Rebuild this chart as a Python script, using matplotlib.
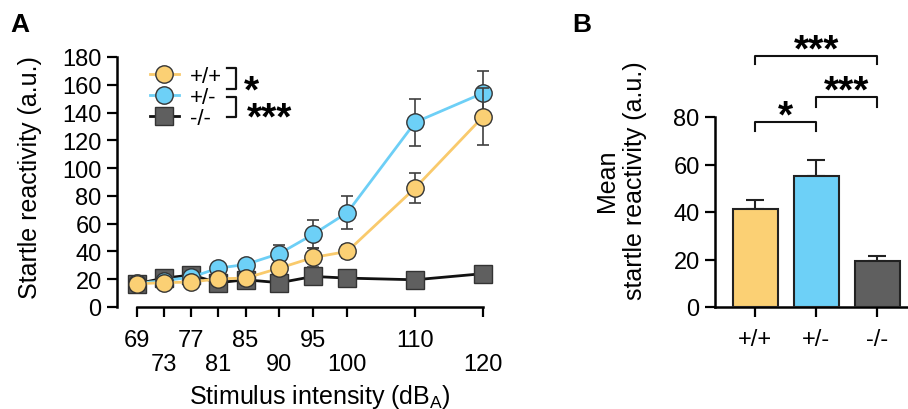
import numpy as np
import matplotlib
matplotlib.use("Agg")
import matplotlib.pyplot as plt

plt.rcParams['font.family'] = ['Liberation Sans', 'DejaVu Sans']
plt.rcParams['mathtext.default'] = 'regular'
FS = 17      # tick labels
LFS = 18     # axis labels
plt.rcParams['font.size'] = FS

# ---- panel A data ----
intensity = [69, 73, 77, 81, 85, 90, 95, 100, 110, 120]
wt_mean = [16.8, 17.5, 18.0, 20.3, 20.8, 28.0, 35.7, 40.0, 85.7, 137.0]
wt_err = [1.5, 1.5, 1.5, 2.0, 2.5, 4.0, 7.0, 5.0, 11.0, 20.4]
het_mean = [17.0, 19.0, 21.5, 28.0, 30.6, 38.5, 52.4, 68.0, 133.0, 154.0]
het_err = [1.5, 1.5, 2.0, 3.0, 3.0, 6.5, 10.0, 11.7, 17.0, 16.0]
ko_mean = [16.8, 20.8, 23.0, 17.5, 19.6, 17.5, 22.0, 20.8, 19.6, 24.0]
ko_err = [1.0, 1.0, 1.0, 1.0, 1.0, 1.0, 1.0, 1.0, 1.0, 1.0]
top_row = [69, 77, 85, 95, 110]

# ---- panel B data ----
genotypes = ['+/+', '+/-', '-/-']
bar_mean = [41.1, 55.0, 19.5]
bar_err = [4.1, 6.8, 2.1]

c_wt, c_wt_line = '#FBD074', '#F9CA6C'
c_het, c_het_line = '#6DD0F7', '#6DCFF6'
c_ko = '#5F5F5F'
edge = '#333333'

fig = plt.figure(figsize=(9.08, 4.10), dpi=100)

# ================= Panel A =================
ax = fig.add_axes([117/908, 102/410, 372.8/908, 250/410])
series = [(ko_mean, ko_err, c_ko, '#111111', 's', '-/-'),
          (het_mean, het_err, c_het, c_het_line, 'o', '+/-'),
          (wt_mean, wt_err, c_wt, c_wt_line, 'o', '+/+')]
handles = {}
z = 2
for m, e, fc, lc, mk, lab in series:
    ax.errorbar(intensity, m, yerr=e, fmt='none', ecolor='#404040',
                elinewidth=1.2, capsize=4.3, capthick=1.2, zorder=z, clip_on=False)
    h, = ax.plot(intensity, m, '-', color=lc, lw=2, marker=mk, ms=12.5,
                 mfc=fc, mec=edge, mew=1.0, zorder=z + 1, clip_on=False, label=lab)
    handles[lab] = h
    z += 2

ax.set_xlim(66.05, 121)
ax.set_ylim(0, 180)
ax.spines['top'].set_visible(False)
ax.spines['right'].set_visible(False)
ax.spines['bottom'].set_bounds(69, 120)
for s in ['left', 'bottom']:
    ax.spines[s].set_linewidth(1.8)
ax.set_yticks(np.arange(0, 181, 20))
ax.set_xticks(intensity)
ax.set_xticklabels([str(v) if v in top_row else '\n' + str(v) for v in intensity],
                   linespacing=1.08)
ax.tick_params(width=1.6, length=7, labelsize=FS)
ax.tick_params(axis='x', pad=9)
ax.tick_params(axis='y', pad=4)
ax.set_ylabel('Startle reactivity (a.u.)', fontsize=LFS)
ax.yaxis.set_label_coords(-0.2, 0.52)
ax.set_xlabel('Stimulus intensity (dB$_{A}$)', fontsize=LFS)
ax.xaxis.set_label_coords(0.545, -0.30)

leg = ax.legend([handles['+/+'], handles['+/-'], handles['-/-']], ['+/+', '+/-', '-/-'],
                loc='upper left', bbox_to_anchor=(0.088, 0.964), frameon=False,
                handlelength=1.3, handletextpad=0.5, labelspacing=0.0,
                borderpad=0, borderaxespad=0, fontsize=16, markerscale=1.0)

# legend brackets
tr = ax.transAxes
for y0, y1 in [(0.956, 0.872), (0.84, 0.76)]:
    ax.plot([0.295, 0.319, 0.319, 0.295], [y0, y0, y1, y1], color='#111111',
            lw=1.6, transform=tr, clip_on=False)
ax.text(0.362, 0.822, '*', transform=tr, ha='center', va='baseline', fontsize=28,
        fontweight='bold')
ax.text(0.41, 0.714, '***', transform=tr, ha='center', va='baseline', fontsize=28,
        fontweight='bold')

fig.text(20/908, 1 - 25/410, 'A', fontsize=19, fontweight='bold', ha='center', va='center')

# ================= Panel B =================
bx = fig.add_axes([715/908, 102/410, 193/908, 190/410])
xpos = np.arange(len(genotypes))
bx.bar(xpos, bar_mean, width=0.74, color=[c_wt, c_het, c_ko], edgecolor='#222222',
       linewidth=1.5, zorder=3)
bx.errorbar(xpos, bar_mean, yerr=[[0, 0, 0], bar_err], fmt='none', ecolor='#222222',
            elinewidth=1.5, capsize=6.5, capthick=1.5, zorder=2)
bx.set_xlim(-0.66, 2.5)
bx.set_ylim(0, 80)
bx.spines['top'].set_visible(False)
bx.spines['right'].set_visible(False)
for s in ['left', 'bottom']:
    bx.spines[s].set_linewidth(1.8)
bx.set_yticks([0, 20, 40, 60, 80])
bx.set_xticks(xpos)
bx.set_xticklabels(genotypes)
bx.tick_params(width=1.6, length=7, labelsize=FS)
bx.tick_params(axis='x', pad=8)
bx.tick_params(axis='y', pad=4)
bx.set_ylabel('Mean\nstartle reactivity (a.u.)', fontsize=LFS, linespacing=1.25)
bx.yaxis.set_label_coords(-0.35, 0.67)

# significance brackets
for (a, b), ytop, ydrop, lab in [((0, 1), 77.9, 74.1, '*'),
                                 ((1, 2), 88.4, 84.2, '***'),
                                 ((0, 2), 105.7, 102.3, '***')]:
    bx.plot([a, a, b, b], [ydrop, ytop, ytop, ydrop], color='#111111', lw=1.5,
            clip_on=False)
    bx.text((a + b) / 2, ytop - 2.0, lab, ha='center', va='baseline', fontsize=28,
            fontweight='bold', clip_on=False)

fig.text(582/908, 1 - 25/410, 'B', fontsize=19, fontweight='bold', ha='center', va='center')

fig.savefig('out.png', dpi=100)
